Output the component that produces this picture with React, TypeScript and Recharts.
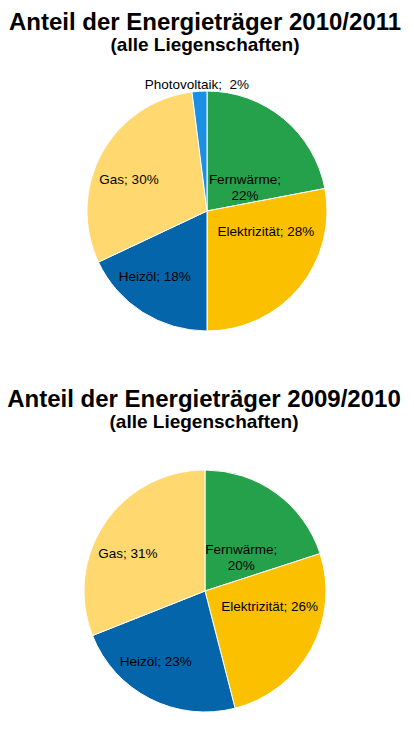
import { PieChart, Pie, Cell } from "recharts";

// Daten
const categories2011 = ["Fernwärme", "Elektrizität", "Heizöl", "Gas", "Photovoltaik"];
const shares2011 = [22, 28, 18, 30, 2];

const categories2010 = ["Fernwärme", "Elektrizität", "Heizöl", "Gas"];
const shares2010 = [20, 26, 23, 31];

const colors: Record<string, string> = {
  Fernwärme: "#25A04B",
  Elektrizität: "#FBC000",
  Heizöl: "#0565AA",
  Gas: "#FFD970",
  Photovoltaik: "#1A8FE3",
};

// label placement: fraction of radius, angle shift from slice middle
const labelLayout2011: Record<string, [number, number]> = {
  Fernwärme: [0.37, -19],
  Elektrizität: [0.52, 20],
  Heizöl: [0.7, -6],
  Gas: [0.7, 7],
  Photovoltaik: [1.06, 1],
};
const labelLayout2010: Record<string, [number, number]> = {
  Fernwärme: [0.41, -11],
  Elektrizität: [0.55, 15],
  Heizöl: [0.71, -8],
  Gas: [0.71, 8],
};

const RADIAN = Math.PI / 180;
const FONT = "'Liberation Sans', Arial, sans-serif";
const NO_MARGIN = { top: 0, right: 0, bottom: 0, left: 0 };

const makeLabel = (layout: Record<string, [number, number]>) => (props: any) => {
  const { cx, cy, midAngle, outerRadius, name, value } = props;
  const [k, d] = layout[name] || [0.6, 0];
  const a = (midAngle + d) * RADIAN;
  const x = cx + outerRadius * k * Math.cos(-a);
  const y = cy + outerRadius * k * Math.sin(-a);
  const common = {
    x,
    textAnchor: "middle" as const,
    fill: "#000",
    fontSize: 13.5,
    fontFamily: FONT,
  };
  if (name === "Fernwärme") {
    return (
      <text {...common} y={y}>
        <tspan x={x} y={y - 8 + 4.5}>{`${name};`}</tspan>
        <tspan x={x} y={y + 8 + 4.5}>{`${value}%`}</tspan>
      </text>
    );
  }
  const sep = name === "Photovoltaik" ? ";\u00a0 " : "; ";
  return (
    <text {...common} y={y + 4.5}>
      {`${name}${sep}${value}%`}
    </text>
  );
};

const toRows = (names: string[], values: number[]) =>
  names.map((name, i) => ({ name, value: values[i] }));

const data2011 = toRows(categories2011, shares2011);
const data2010 = toRows(categories2010, shares2010);

const Title = ({ y, x, main }: { y: number; x: number; main: string }) => (
  <svg
    width={414}
    height={60}
    style={{ position: "absolute", left: 0, top: y, overflow: "visible" }}
  >
    <text x={x} y={30} textAnchor="middle" fontFamily={FONT} fontWeight="bold" fontSize={24}>
      {main}
    </text>
    <text x={x} y={51} textAnchor="middle" fontFamily={FONT} fontWeight="bold" fontSize={19}>
      (alle Liegenschaften)
    </text>
  </svg>
);

export default function App() {
  return (
    <div
      style={{
        position: "absolute",
        left: 0,
        top: 0,
        width: 414,
        height: 739,
        background: "#fff",
        overflow: "hidden",
      }}
    >
      <Title y={0} x={205} main="Anteil der Energieträger 2010/2011" />
      <div style={{ position: "absolute", left: 0, top: 0 }}>
        <PieChart width={414} height={370} margin={NO_MARGIN}>
          <Pie
            data={data2011}
            dataKey="value"
            nameKey="name"
            cx={207}
            cy={211}
            outerRadius={120}
            startAngle={90}
            endAngle={-270}
            stroke="#fff"
            strokeWidth={1}
            label={makeLabel(labelLayout2011)}
            labelLine={false}
            isAnimationActive={false}
          >
            {data2011.map((d) => (
              <Cell key={d.name} fill={colors[d.name]} />
            ))}
          </Pie>
        </PieChart>
      </div>

      <Title y={377} x={204} main="Anteil der Energieträger 2009/2010" />
      <div style={{ position: "absolute", left: 0, top: 370 }}>
        <PieChart width={414} height={369} margin={NO_MARGIN}>
          <Pie
            data={data2010}
            dataKey="value"
            nameKey="name"
            cx={205}
            cy={221}
            outerRadius={121}
            startAngle={90}
            endAngle={-270}
            stroke="#fff"
            strokeWidth={1}
            label={makeLabel(labelLayout2010)}
            labelLine={false}
            isAnimationActive={false}
          >
            {data2010.map((d) => (
              <Cell key={d.name} fill={colors[d.name]} />
            ))}
          </Pie>
        </PieChart>
      </div>
    </div>
  );
}
